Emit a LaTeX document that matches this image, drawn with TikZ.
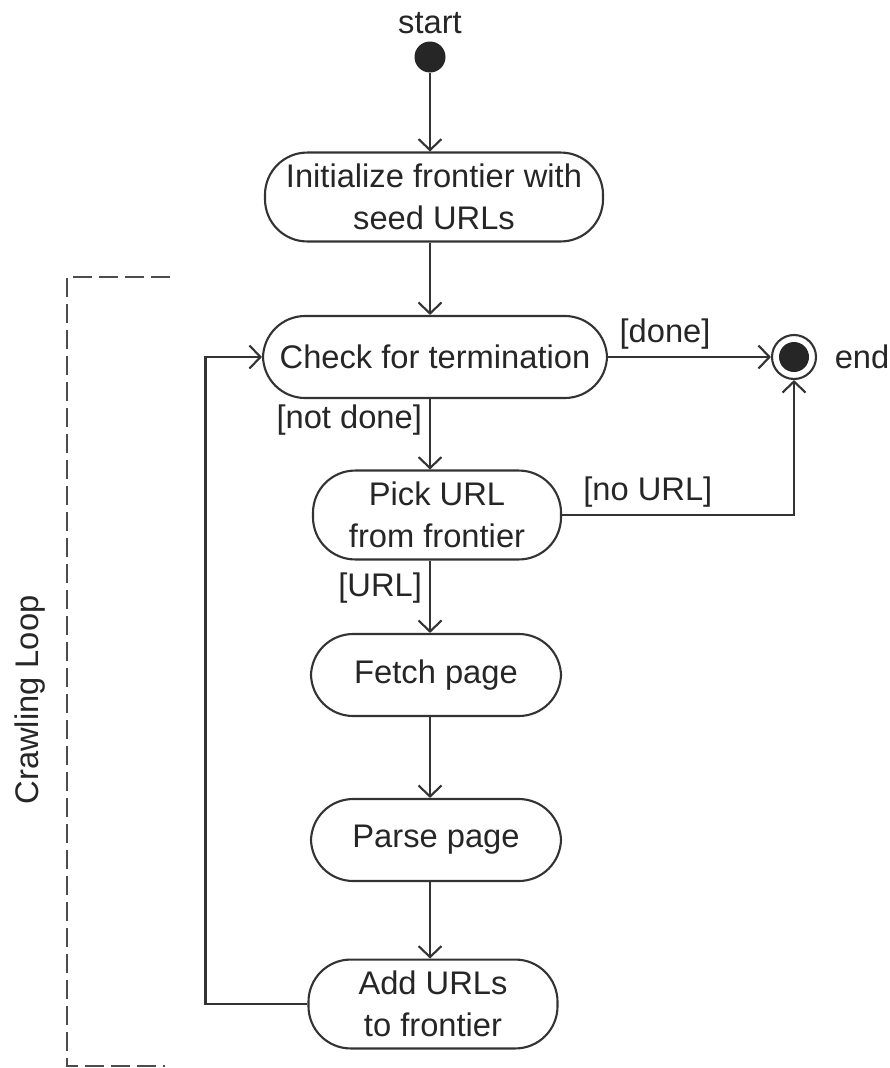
\documentclass[tikz,border=0pt]{standalone}
\usepackage{fontspec}
\setmainfont{Liberation Sans}
\usetikzlibrary{arrows.meta, positioning}
\tikzset{
  actnode/.style={
    rectangle, rounded corners=12pt,
    minimum width=#1, minimum height=0.82cm,
    align=center, font=\fontsize{9.3}{11.8}\selectfont,
    draw=black!80, line width=0.6pt, text=black!85
  },
  flowarrow/.style={-{Straight Barb[length=1.1mm,width=2.3mm]}, line width=0.6pt, draw=black!80},
  guardlbl/.style={font=\fontsize{9.3}{11}\selectfont, text=black!85, inner sep=2pt},
  startdot/.style={circle, fill=black!85, minimum size=0.31cm, inner sep=0pt},
  enddot/.style={
    circle, draw=black!80, line width=0.6pt, minimum size=0.44cm, inner sep=0pt,
    path picture={\fill[black!85] (path picture bounding box.center) circle (0.15cm);}
  },
  loopbracket/.style={draw=black!70, line width=0.6pt, dash pattern=on 0.19cm off 0.07cm},
}
\begin{document}
\begin{tikzpicture}[x=1cm,y=-1cm]
  \useasboundingbox (0,0) rectangle (8.89,10.68);

  % states
  \node[guardlbl] (startlbl) at (4.30,0.23) {start};
  \node[startdot] (start) at (4.30,0.57) {};
  \node[actnode=3.38cm, minimum height=0.85cm] (init) at (4.34,1.97) {Initialize frontier with\\seed URLs};
  \node[actnode=3.44cm] (check) at (4.35,3.57) {Check for termination};
  \node[enddot] (end) at (7.94,3.57) {};
  \node[guardlbl, right=0.1cm of end] (endlbl) {end};
  \node[actnode=2.48cm, minimum height=0.80cm] (pick) at (4.37,5.15) {Pick URL\\from frontier};
  \node[actnode=2.50cm] (fetch) at (4.36,6.75) {Fetch page};
  \node[actnode=2.50cm] (parse) at (4.36,8.40) {Parse page};
  \node[actnode=2.49cm] (add) at (4.33,10.04) {Add URLs\\to frontier};

  % transitions
  \draw[flowarrow] (start) -- (start |- init.north);
  \draw[flowarrow] (init.south -| start) -- (check.north -| start);
  \draw[flowarrow] (check.east) -- node[guardlbl, pos=0.35, above] {[done]} (end.west);
  \draw[flowarrow] (check.south -| start) -- node[guardlbl, pos=0.3, left] {[not done]} (pick.north -| start);
  \draw[flowarrow] (pick.east) -- node[guardlbl, pos=0.37, above] {[no URL]} (pick.east -| end) -- (end.south);
  \draw[flowarrow] (pick.south -| start) -- node[guardlbl, pos=0.38, left] {[URL]} (fetch.north -| start);
  \draw[flowarrow] (fetch.south -| start) -- (parse.north -| start);
  \draw[flowarrow] (parse.south -| start) -- (add.north -| start);
  \draw[flowarrow] (add.west) -- ++(-1.02,0) |- (check.west);

  % loop bracket
  \draw[loopbracket] (1.70,2.77) -- (0.67,2.77) -- (0.67,10.66) -- (1.65,10.66);
  \node[guardlbl, rotate=90] (looplbl) at (0.30,7.00) {Crawling Loop};
\end{tikzpicture}
\end{document}
